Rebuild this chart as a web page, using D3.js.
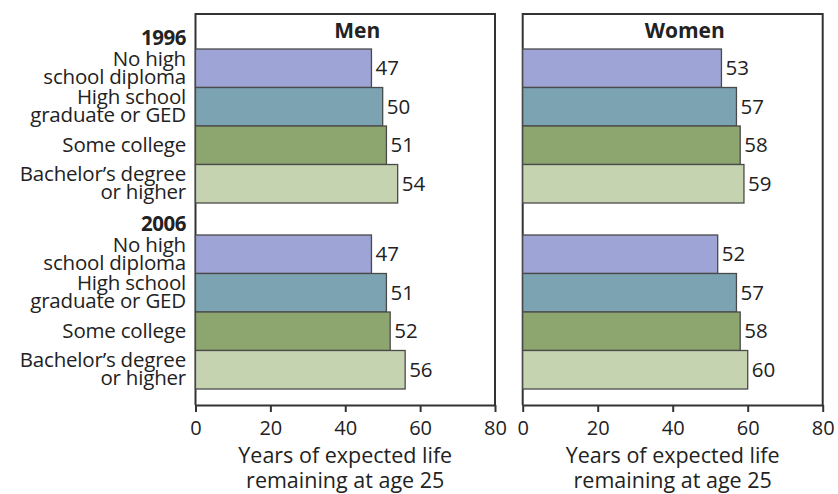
<!DOCTYPE html>
<html><head><meta charset="utf-8">
<script src="https://cdn.jsdelivr.net/npm/d3@7/dist/d3.min.js"></script>
<style>
body{margin:0;background:#fff;}
text{font-family:"Open Sans",sans-serif;fill:#222;}
</style></head>
<body><svg id="c" width="838" height="494"></svg>
<script>
const years = ["1996", "2006"];
const levels = ["No high school diploma", "High school graduate or GED", "Some college", "Bachelor’s degree or higher"];
const levelLines = [["No high", "school diploma"], ["High school", "graduate or GED"], ["Some college"], ["Bachelor’s degree", "or higher"]];
const panels = ["Men", "Women"];
const men1996 = [47, 50, 51, 54];
const men2006 = [47, 51, 52, 56];
const women1996 = [53, 57, 58, 59];
const women2006 = [52, 57, 58, 60];
const xTicks = [0, 20, 40, 60, 80];
const axisTitle = ["Years of expected life", "remaining at age 25"];
const barColors = ["#9ea4d5", "#7ba3b2", "#8da670", "#c5d3b1"];

const values = {
  Men: {"1996": men1996, "2006": men2006},
  Women: {"1996": women1996, "2006": women2006}
};

const svg = d3.select("#c");
const frameTop = 14, frameBottom = 405;
const panelRanges = {Men: [195.5, 495], Women: [522.7, 822.7]};

const yYear = d3.scaleBand().domain(years).range([49, 389]).paddingInner(0.172).paddingOuter(0);
const yLevel = d3.scaleBand().domain(levels).range([0, yYear.bandwidth()]).padding(0);

// left category labels
years.forEach(yr => {
  const g = svg.append("g").attr("transform", `translate(0,${yYear(yr)})`);
  g.append("text").attr("x", 186).attr("y", -4).attr("text-anchor", "end")
    .attr("font-weight", "bold").attr("font-size", 20.5).attr("letter-spacing", -0.5).text(yr);
  levels.forEach((lv, i) => {
    const lines = levelLines[i];
    const cy = yLevel(lv) + yLevel.bandwidth() / 2;
    const t = g.append("text").attr("text-anchor", "end").attr("font-size", 20.5)
      .attr("letter-spacing", -0.2);
    lines.forEach((ln, j) => {
      const off = (j - (lines.length - 1) / 2) * 18;
      t.append("tspan").attr("x", 186).attr("y", cy + off + 6.5).text(ln);
    });
  });
});

panels.forEach(p => {
  const x = d3.scaleLinear().domain([0, 80]).range(panelRanges[p]);
  const g = svg.append("g");
  // frame
  g.append("path")
    .attr("d", `M${x(0)},${frameBottom}V${frameTop}H${x(80)}V${frameBottom}`)
    .attr("fill", "none").attr("stroke", "#333").attr("stroke-width", 2);
  // title
  g.append("text").attr("x", x(0) + (x(80) - x(0)) * 0.54).attr("y", 38)
    .attr("text-anchor", "middle").attr("font-weight", "bold").attr("font-size", 21).text(p);
  years.forEach(yr => {
    const vals = values[p][yr];
    const gy = g.append("g").attr("transform", `translate(0,${yYear(yr)})`);
    gy.selectAll("rect").data(levels).join("rect")
      .attr("x", x(0))
      .attr("y", d => yLevel(d))
      .attr("width", (d, i) => x(vals[i]) - x(0))
      .attr("height", yLevel.bandwidth())
      .attr("fill", (d, i) => barColors[i])
      .attr("stroke", "#4a4a4a").attr("stroke-width", 1.3);
    gy.selectAll("text.v").data(levels).join("text").attr("class", "v")
      .attr("x", (d, i) => x(vals[i]) + 4)
      .attr("y", d => yLevel(d) + yLevel.bandwidth() / 2 + 7)
      .attr("font-size", 20.5).text((d, i) => vals[i]);
  });
  // axis
  const ax = g.append("g").attr("transform", `translate(0,${frameBottom})`)
    .call(d3.axisBottom(x).tickValues(xTicks).tickSizeInner(7).tickSizeOuter(0).tickPadding(9));
  ax.select(".domain").attr("stroke", "#333").attr("stroke-width", 2);
  ax.selectAll(".tick line").attr("stroke", "#333").attr("stroke-width", 2);
  ax.selectAll(".tick text").attr("font-family", "Open Sans").attr("font-size", 20).attr("fill", "#222");
  const tt = g.append("text").attr("text-anchor", "middle").attr("font-size", 21.5);
  axisTitle.forEach((ln, j) => {
    tt.append("tspan").attr("x", (x(0) + x(80)) / 2).attr("y", 463 + j * 25).text(ln);
  });
});
</script></body></html>
